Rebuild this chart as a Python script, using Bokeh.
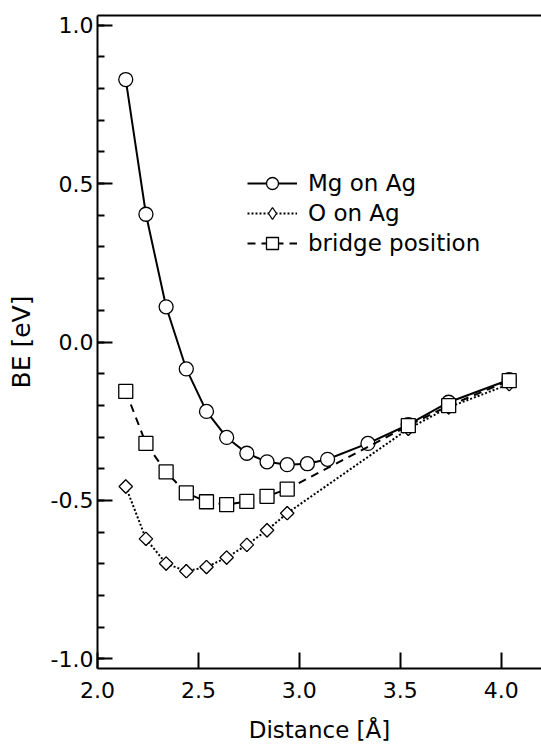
from bokeh.plotting import figure
from bokeh.models import (Range1d, SingleIntervalTicker, FixedTicker, LinearAxis,
                          PrintfTickFormatter, Legend, LegendItem)
from bokeh.embed import file_html
from bokeh.resources import INLINE

# ---- data ----
x_mg = [2.14, 2.24, 2.34, 2.44, 2.54, 2.64, 2.74, 2.84, 2.94, 3.04, 3.14, 3.34, 3.54, 3.74, 4.04]
be_mg = [0.828, 0.403, 0.111, -0.085, -0.219, -0.301, -0.351, -0.378, -0.387, -0.384,
         -0.370, -0.320, -0.261, -0.190, -0.119]

x_o = [2.14, 2.24, 2.34, 2.44, 2.54, 2.64, 2.74, 2.84, 2.94, 3.54, 3.74, 4.04]
be_o = [-0.456, -0.621, -0.699, -0.723, -0.710, -0.680, -0.640, -0.594, -0.540,
        -0.274, -0.206, -0.133]

x_br = [2.14, 2.24, 2.34, 2.44, 2.54, 2.64, 2.74, 2.84, 2.94, 3.54, 3.74, 4.04]
be_br = [-0.156, -0.320, -0.410, -0.476, -0.504, -0.513, -0.503, -0.487, -0.464,
         -0.264, -0.201, -0.122]

labels = ["Mg on Ag", "O on Ag", "bridge position"]
x_label = "Distance [Å]"
y_label = "BE [eV]"

FONT = "DejaVu Sans"

p = figure(width=541, height=745, output_backend="svg", toolbar_location=None,
           x_range=Range1d(2.0, 4.2), y_range=Range1d(-1.03, 1.03),
           min_border_left=97, min_border_right=0, min_border_top=15, min_border_bottom=77,
           background_fill_color="white", border_fill_color="white")
p.outline_line_color = None
p.xgrid.visible = False
p.ygrid.visible = False

# x axis
xa = p.xaxis[0]
xa.ticker = SingleIntervalTicker(interval=0.5, num_minor_ticks=0)
xa.formatter = PrintfTickFormatter(format="%.1f")
xa.axis_label = x_label
# y axis
ya = p.yaxis[0]
ya.ticker = SingleIntervalTicker(interval=0.5, num_minor_ticks=5)
ya.formatter = PrintfTickFormatter(format="%.1f")
ya.axis_label = y_label

for ax in (xa, ya):
    ax.axis_line_width = 2
    ax.axis_line_color = "black"
    ax.major_tick_line_width = 2
    ax.major_tick_line_color = "black"
    ax.minor_tick_line_width = 2
    ax.minor_tick_line_color = "black"
    ax.major_tick_out = 0
    ax.minor_tick_out = 0
    ax.major_label_text_font = FONT
    ax.major_label_text_font_size = "22px"
    ax.major_label_text_color = "black"
    ax.axis_label_text_font = FONT
    ax.axis_label_text_font_style = "normal"
    ax.axis_label_text_color = "black"

xa.major_tick_in = 16
xa.minor_tick_in = 0
xa.major_label_standoff = 13
xa.axis_label_standoff = 16
xa.axis_label_text_font_size = "23px"

ya.major_tick_in = 15
ya.minor_tick_in = 7
ya.major_label_standoff = 4
ya.axis_label_standoff = 12
ya.axis_label_text_font_size = "25px"

top = LinearAxis(ticker=FixedTicker(ticks=[]), major_label_text_font_size="0px",
                 major_tick_in=0, major_tick_out=0, minor_tick_in=0, minor_tick_out=0,
                 axis_line_width=2, axis_line_color="black")
p.add_layout(top, "above")

# series
l1 = p.line(x_mg, be_mg, line_color="black", line_width=2)
s1 = p.scatter(x_mg, be_mg, marker="circle", size=14, fill_color="white",
               line_color="black", line_width=1.3)

l2 = p.line(x_o, be_o, line_color="black", line_width=2, line_dash="2 2")
# diamond used for the legend glyph (legend glyphs ignore marker angle);
# it lies fully under the rotated squares drawn next
s2_leg = p.scatter(x_o, be_o, marker="diamond", size=13, fill_color="white",
                   line_color="black", line_width=1.3)
s2 = p.scatter(x_o, be_o, marker="square", angle=0.785398, size=9.5, fill_color="white",
               line_color="black", line_width=1.3)

l3 = p.line(x_br, be_br, line_color="black", line_width=2, line_dash="8 6")
s3 = p.scatter(x_br, be_br, marker="square", size=14, fill_color="white",
               line_color="black", line_width=1.3)

legend = Legend(items=[LegendItem(label=labels[0], renderers=[l1, s1]),
                       LegendItem(label=labels[1], renderers=[l2, s2_leg]),
                       LegendItem(label=labels[2], renderers=[l3, s3])],
                location=(150, 410), padding=0, margin=0, spacing=0,
                glyph_width=50, glyph_height=30, label_height=30, label_standoff=11,
                label_text_font=FONT, label_text_font_size="23px", label_text_color="black",
                border_line_color=None, background_fill_alpha=0)
p.add_layout(legend, "center")

open("out.html", "w").write(file_html(p, INLINE))
